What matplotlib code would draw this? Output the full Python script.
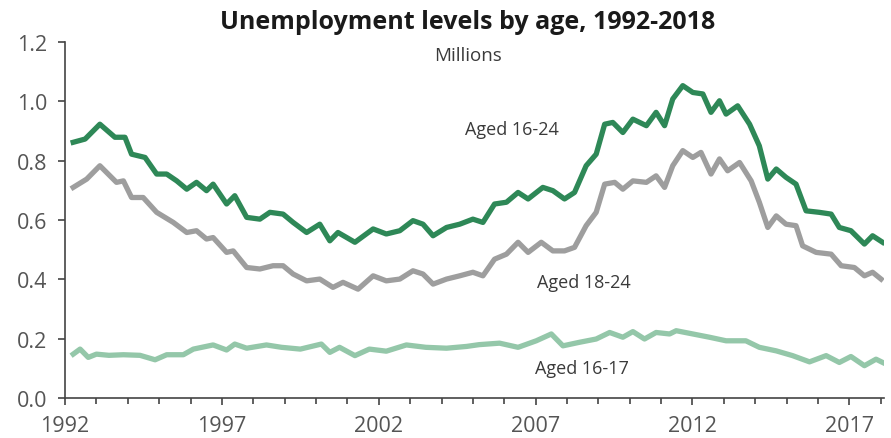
import matplotlib
matplotlib.use("Agg")
import matplotlib.pyplot as plt
from matplotlib.ticker import MultipleLocator, FormatStrFormatter

plt.rcParams["font.family"] = ["Open Sans", "DejaVu Sans"]

# Aged 16-24
years_1624 = [1992.26, 1992.64, 1993.11, 1993.59, 1993.91, 1994.12, 1994.55, 1994.92,
              1995.24, 1995.56, 1995.88, 1996.19, 1996.51, 1996.72, 1997.15, 1997.41,
              1997.79, 1998.21, 1998.53, 1998.95, 1999.27, 1999.70, 2000.12, 2000.44,
              2000.70, 2001.24, 2001.82, 2002.24, 2002.67, 2003.09, 2003.41, 2003.73,
              2004.16, 2004.58, 2005.00, 2005.32, 2005.69, 2006.07, 2006.44, 2006.76,
              2007.23, 2007.55, 2007.92, 2008.24, 2008.61, 2008.93, 2009.20, 2009.46,
              2009.78, 2010.10, 2010.53, 2010.84, 2011.11, 2011.37, 2011.69, 2012.01,
              2012.33, 2012.59, 2012.86, 2013.07, 2013.44, 2013.82, 2014.13, 2014.40,
              2014.67, 2014.98, 2015.30, 2015.62, 2016.04, 2016.42, 2016.68, 2017.05,
              2017.48, 2017.74, 2018.06]
vals_1624 = [0.862, 0.873, 0.923, 0.879, 0.879, 0.822, 0.811, 0.755,
             0.755, 0.732, 0.704, 0.727, 0.699, 0.721, 0.654, 0.682,
             0.609, 0.603, 0.626, 0.620, 0.592, 0.558, 0.586, 0.530,
             0.558, 0.525, 0.570, 0.553, 0.564, 0.598, 0.586, 0.547,
             0.575, 0.586, 0.603, 0.592, 0.654, 0.660, 0.693, 0.671,
             0.710, 0.699, 0.671, 0.693, 0.783, 0.822, 0.923, 0.929,
             0.895, 0.940, 0.918, 0.963, 0.918, 1.008, 1.053, 1.030,
             1.025, 0.963, 1.002, 0.957, 0.985, 0.923, 0.850, 0.738,
             0.772, 0.744, 0.721, 0.631, 0.626, 0.620, 0.575, 0.564,
             0.519, 0.547, 0.525]

# Aged 18-24
years_1824 = [1992.26, 1992.69, 1993.11, 1993.64, 1993.86, 1994.12, 1994.49, 1994.92,
              1995.45, 1995.88, 1996.19, 1996.51, 1996.72, 1997.15, 1997.36, 1997.79,
              1998.21, 1998.63, 1998.95, 1999.27, 1999.70, 2000.12, 2000.54, 2000.86,
              2001.34, 2001.82, 2002.24, 2002.67, 2003.09, 2003.41, 2003.73, 2004.16,
              2004.58, 2005.00, 2005.32, 2005.69, 2006.07, 2006.44, 2006.76, 2007.18,
              2007.55, 2007.92, 2008.24, 2008.61, 2008.93, 2009.20, 2009.52, 2009.78,
              2010.10, 2010.53, 2010.84, 2011.11, 2011.37, 2011.69, 2012.01, 2012.27,
              2012.59, 2012.86, 2013.12, 2013.50, 2013.87, 2014.13, 2014.40, 2014.67,
              2014.98, 2015.30, 2015.51, 2015.94, 2016.42, 2016.74, 2017.16, 2017.48,
              2017.74, 2018.01]
vals_1824 = [0.710, 0.738, 0.783, 0.727, 0.732, 0.676, 0.676, 0.626,
             0.592, 0.558, 0.564, 0.536, 0.541, 0.491, 0.496, 0.440,
             0.435, 0.446, 0.446, 0.418, 0.395, 0.401, 0.373, 0.390,
             0.367, 0.412, 0.395, 0.401, 0.429, 0.418, 0.384, 0.401,
             0.412, 0.424, 0.412, 0.468, 0.485, 0.525, 0.491, 0.525,
             0.496, 0.496, 0.508, 0.581, 0.626, 0.721, 0.727, 0.704,
             0.732, 0.727, 0.749, 0.710, 0.783, 0.834, 0.811, 0.828,
             0.755, 0.806, 0.766, 0.794, 0.732, 0.660, 0.575, 0.614,
             0.586, 0.581, 0.513, 0.491, 0.485, 0.446, 0.440, 0.412,
             0.424, 0.401]

# Aged 16-17
years_1617 = [1992.26, 1992.48, 1992.74, 1993.00, 1993.40, 1993.86, 1994.39, 1994.87,
              1995.24, 1995.77, 1996.09, 1996.72, 1997.15, 1997.41, 1997.79, 1998.42,
              1998.90, 1999.50, 2000.17, 2000.44, 2000.75, 2001.24, 2001.70, 2002.24,
              2002.88, 2003.50, 2004.16, 2004.80, 2005.20, 2005.85, 2006.44, 2007.02,
              2007.50, 2007.87, 2008.40, 2008.93, 2009.36, 2009.78, 2010.10, 2010.47,
              2010.84, 2011.27, 2011.48, 2012.01, 2012.54, 2013.07, 2013.70, 2014.13,
              2014.67, 2015.19, 2015.73, 2016.26, 2016.68, 2017.05, 2017.48, 2017.85,
              2018.06]
vals_1617 = [0.148, 0.165, 0.137, 0.148, 0.144, 0.146, 0.144, 0.129,
             0.146, 0.146, 0.165, 0.179, 0.162, 0.182, 0.168, 0.179,
             0.171, 0.165, 0.182, 0.154, 0.171, 0.143, 0.165, 0.158,
             0.179, 0.171, 0.168, 0.174, 0.180, 0.185, 0.171, 0.193,
             0.216, 0.176, 0.188, 0.199, 0.221, 0.205, 0.224, 0.199,
             0.221, 0.216, 0.227, 0.216, 0.205, 0.193, 0.193, 0.171,
             0.159, 0.143, 0.122, 0.143, 0.120, 0.140, 0.109, 0.131,
             0.120]

year_ticks = list(range(1992, 2018, 5))

fig = plt.figure(figsize=(8.91, 4.39), dpi=100)
ax = fig.add_axes([0.073, 0.091, 0.919, 0.811])

ax.plot(years_1824, vals_1824, color="#9e9e9e", lw=3.8, solid_joinstyle="round")
ax.plot(years_1617, vals_1617, color="#94c7a9", lw=3.8, solid_joinstyle="round")
ax.plot(years_1624, vals_1624, color="#2e8857", lw=3.8, solid_joinstyle="round")

ax.set_xlim(1992, 2018.1)
ax.set_ylim(0, 1.2)
ax.yaxis.set_major_locator(MultipleLocator(0.2))
ax.yaxis.set_major_formatter(FormatStrFormatter("%.1f"))
ax.set_xticks(year_ticks)
ax.set_xticks(range(1992, 2019), minor=True)
ax.xaxis.set_major_formatter(FormatStrFormatter("%d"))

for s in ["top", "right"]:
    ax.spines[s].set_visible(False)
for s in ["left", "bottom"]:
    ax.spines[s].set_color("#444444")
    ax.spines[s].set_linewidth(1.2)
ax.tick_params(axis="both", which="both", direction="out", color="#444444",
               labelcolor="#555555", labelsize=15.5, width=1.2)
ax.tick_params(axis="both", which="major", length=5)
ax.tick_params(axis="x", which="minor", length=4)
ax.tick_params(axis="x", which="major", pad=7.5)
ax.tick_params(axis="y", which="major", pad=8)

ax.text(2004.74, 0.907, "Aged 16-24", fontsize=13, color="#3a3a3a", va="center")
ax.text(2007.03, 0.391, "Aged 18-24", fontsize=13, color="#3a3a3a", va="center")
ax.text(2006.97, 0.101, "Aged 16-17", fontsize=13, color="#3a3a3a", va="center")

fig.text(0.525, 0.948, "Unemployment levels by age, 1992-2018", ha="center",
         va="center", fontsize=18, fontweight="bold", color="#1a1a1a")
fig.text(0.525, 0.872, "Millions", ha="center", va="center", fontsize=13.5,
         color="#3a3a3a")

fig.savefig("out.png", dpi=100)
